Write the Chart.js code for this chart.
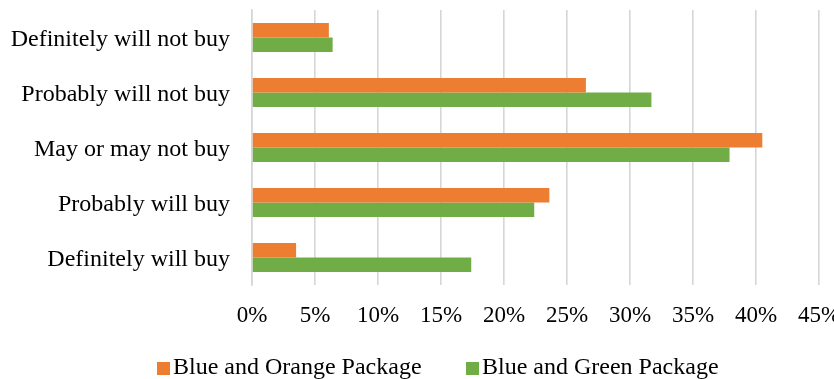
<!DOCTYPE html>
<html>
<head>
<meta charset="utf-8">
<script src="https://cdn.jsdelivr.net/npm/chart.js@4.4.1/dist/chart.umd.min.js"></script>
<style>
  html, body { margin: 0; padding: 0; background: #fff; overflow: hidden; }
  #wrap { position: relative; width: 834px; height: 379px; }
  #legend {
    position: absolute; left: 0; top: 354px; width: 834px; height: 25px;
    font-family: 'Liberation Serif', 'Times New Roman', serif; font-size: 24px; color: #000;
  }
  .legend-item { position: absolute; top: 0; white-space: nowrap; line-height: 25px; }
  .legend-item .swatch {
    display: inline-block; width: 13px; height: 13px; margin-right: 3px; vertical-align: -1px;
  }
</style>
</head>
<body>
<div id="wrap">
  <canvas id="purchaseChart" width="834" height="379"></canvas>
  <div id="legend"></div>
</div>
<script>
// --- Purchase intent by package design ---
const categories = [
    'Definitely will not buy',
    'Probably will not buy',
    'May or may not buy',
    'Probably will buy',
    'Definitely will buy'
];
const seriesNames = ['Blue and Orange Package', 'Blue and Green Package'];
const orangeValues = [6.1, 26.5, 40.5, 23.6, 3.5];
const greenValues = [6.4, 31.7, 37.9, 22.4, 17.4];
const seriesColors = ['#ED7D31', '#70AD47'];
const xTicks = [0, 5, 10, 15, 20, 25, 30, 35, 40, 45];

const fontFamily = "'Liberation Serif', 'Times New Roman', serif";
const textColor = '#000';

const data = {
    labels: categories,
    datasets: [
        { label: seriesNames[0], data: orangeValues, backgroundColor: seriesColors[0] },
        { label: seriesNames[1], data: greenValues, backgroundColor: seriesColors[1] }
    ]
};

const config = {
    type: 'bar',
    data: data,
    options: {
        indexAxis: 'y',
        responsive: false,
        animation: false,
        layout: { padding: { top: 10, right: 15, left: 0, bottom: 0 } },
        datasets: {
            bar: { categoryPercentage: 0.527, barPercentage: 1, borderWidth: 0 }
        },
        plugins: {
            legend: { display: false },
            tooltip: { enabled: false }
        },
        scales: {
            x: {
                min: xTicks[0],
                max: xTicks[xTicks.length - 1],
                afterBuildTicks: function(scale) {
                    scale.ticks = xTicks.map(v => ({ value: v }));
                },
                afterFit: function(scale) {
                    // keep the plot edge fixed; the last label may run off the canvas
                    scale.paddingLeft = 0;
                    scale.paddingRight = 0;
                    scale.height = 94;
                },
                grid: { color: '#d6d6d6', lineWidth: 1.6, drawTicks: false },
                border: { display: false },
                ticks: {
                    padding: 17,
                    color: textColor,
                    font: { family: fontFamily, size: 23 },
                    callback: v => v + '%'
                }
            },
            y: {
                afterFit: function(scale) {
                    scale.width = 252;
                    scale.paddingTop = 0;
                    scale.paddingBottom = 0;
                },
                grid: { display: false, drawTicks: false },
                border: { display: true, color: '#d6d6d6', width: 1.6 },
                ticks: {
                    padding: 22,
                    labelOffset: 2,
                    color: textColor,
                    font: { family: fontFamily, size: 24 }
                }
            }
        }
    }
};

const chart = new Chart(document.getElementById('purchaseChart').getContext('2d'), config);

// --- Legend below the plot ---
const legendEl = document.getElementById('legend');
const legendLeft = [157, 466];
chart.data.datasets.forEach((ds, i) => {
    const item = document.createElement('div');
    item.className = 'legend-item';
    item.style.left = legendLeft[i] + 'px';
    const swatch = document.createElement('span');
    swatch.className = 'swatch';
    swatch.style.backgroundColor = ds.backgroundColor;
    item.appendChild(swatch);
    item.appendChild(document.createTextNode(ds.label));
    legendEl.appendChild(item);
});
</script>
</body>
</html>
